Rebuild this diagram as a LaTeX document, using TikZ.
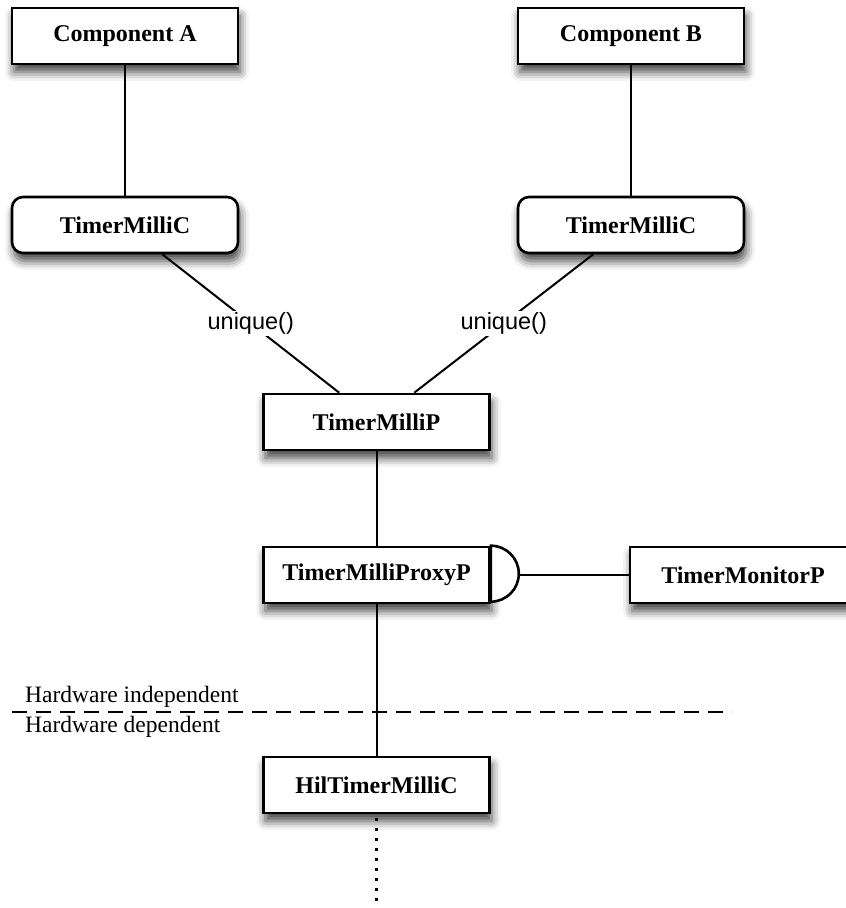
\documentclass[tikz,border=0pt]{standalone}
\usepackage{fontspec}
\setmainfont{Liberation Serif}
\newfontfamily\helv{Liberation Sans}
\usetikzlibrary{shadows.blur}
\begin{document}
\begin{tikzpicture}[x=1pt,y=1pt,
  box/.style={draw=black, line width=2.6pt, fill=white, minimum width=226pt, minimum height=56pt,
    font=\fontsize{24}{28}\selectfont\bfseries, inner sep=0pt,
    blur shadow={shadow xshift=2pt, shadow yshift=-8pt, shadow blur radius=9pt, shadow opacity=75}},
  rbox/.style={box, rounded corners=11pt},
  conn/.style={line width=2pt},
  lbl/.style={font=\helv\fontsize{23.5}{28}\selectfont, fill=white, inner sep=2pt},
  hw/.style={font=\fontsize{23.5}{28}\selectfont, anchor=base west, inner sep=0pt}]
\useasboundingbox (0,0) rectangle (846,908);
\begin{scope}
\clip (0,0) rectangle (846,908);
\node[box] (ca) at (125,872) {Component A};
\node[box] (cb) at (631,872) {Component B};
\node[rbox] (tmca) at (125,683) {TimerMilliC};
\node[rbox] (tmcb) at (631,683) {TimerMilliC};
\node[box] (tmp) at (376.5,486) {TimerMilliP};
\node[box] (prx) at (376.5,333) {TimerMilliProxyP};
\node[box] (mon) at (743,333) {TimerMonitorP};
\node[box] (hil) at (376.5,123) {HilTimerMilliC};
\draw[line width=2.6pt, fill=white] (prx.north east) arc[start angle=90, end angle=-90, radius=28pt] -- cycle;
\coordinate (hc) at ([xshift=28pt]prx.east);
\coordinate (dotend) at (376.5,0);
\coordinate (dl) at (12,196);
\coordinate (dr) at (732,196);
\end{scope}
\draw[conn] (ca) -- (tmca);
\draw[conn] (cb) -- (tmcb);
\draw[conn] (tmca) -- node[lbl] {unique()} (tmp);
\draw[conn] (tmcb) -- node[lbl] {unique()} (tmp);
\draw[conn] (tmp) -- (prx);
\draw[conn] (hc) -- (mon);
\draw[conn] (prx) -- (hil);
\draw[line width=3pt, dash pattern=on 3pt off 7pt] ([yshift=-4pt]hil.south) -- (dotend);
\draw[conn, dash pattern=on 15pt off 9pt] (dl) -- (dr);
\node[hw] (hi) at (25,205) {Hardware independent};
\node[hw] (hd) at (25,175) {Hardware dependent};
\end{tikzpicture}
\end{document}
